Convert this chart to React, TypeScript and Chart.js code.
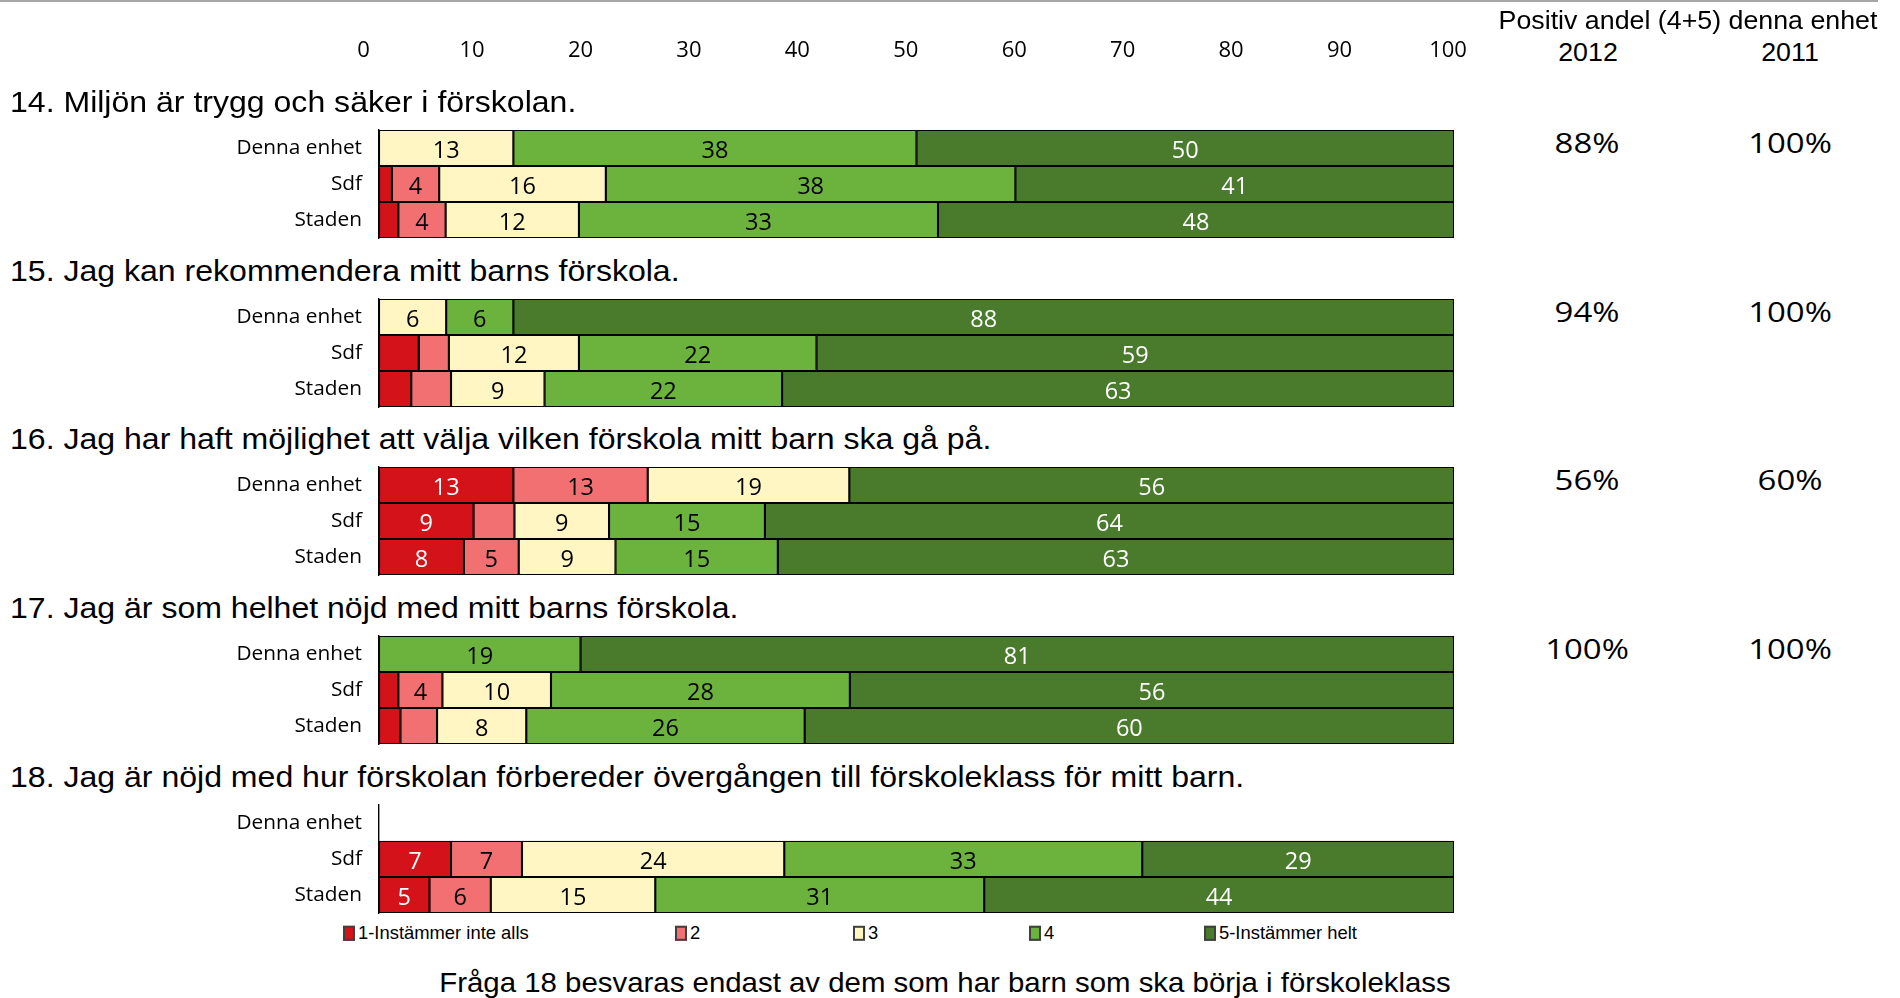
import React, { useEffect, useRef } from 'react';
import { Chart, registerables } from 'chart.js';

Chart.register(...registerables);

// ---------------- data ----------------
const categories = ['Denna enhet', 'Sdf', 'Staden'];
const questionTitles = [
  '14. Miljön är trygg och säker i förskolan.',
  '15. Jag kan rekommendera mitt barns förskola.',
  '16. Jag har haft möjlighet att välja vilken förskola mitt barn ska gå på.',
  '17. Jag är som helhet nöjd med mitt barns förskola.',
  '18. Jag är nöjd med hur förskolan förbereder övergången till förskoleklass för mitt barn.',
];
const levelNames = ['1-Instämmer inte alls', '2', '3', '4', '5-Instämmer helt'];
// each level: one row per question, values for [Denna enhet, Sdf, Staden]
const level1 = [[0, 1.2, 1.8], [0, 3.7, 3.0], [12.5, 8.8, 7.9], [0, 1.8, 2.0], [null, 6.7, 4.7]];
const level2 = [[0, 4.4, 4.4], [0, 2.8, 3.7], [12.5, 3.8, 5.1], [0, 4.1, 3.4], [null, 6.6, 5.7]];
const level3 = [[12.5, 15.5, 12.4], [6.25, 12.1, 8.7], [18.75, 8.8, 9.0], [0, 10.1, 8.3], [null, 24.4, 15.3]];
const level4 = [[37.5, 38.1, 33.4], [6.25, 22.1, 22.1], [0, 14.5, 15.1], [18.75, 27.8, 25.9], [null, 33.3, 30.6]];
const level5 = [[50, 40.8, 48.0], [87.5, 59.3, 62.5], [56.25, 64.1, 62.9], [81.25, 56.2, 60.4], [null, 29.0, 43.7]];
const positive2012 = [88, 94, 56, 100, null];
const positive2011 = [100, 100, 60, 100, null];
const xTickValues = [0, 10, 20, 30, 40, 50, 60, 70, 80, 90, 100];
const headerText = 'Positiv andel (4+5) denna enhet';
const yearLabels = ['2012', '2011'];
const footnote = 'Fråga 18 besvaras endast av dem som har barn som ska börja i förskoleklass';

// ---------------- styling / layout ----------------
const levelColors = ['#D3121A', '#F27072', '#FFF6C4', '#6CB33E', '#4A7A2C'];
const labelColors = ['#FFFFFF', '#000000', '#000000', '#000000', '#FFFFFF'];
const ARIAL = '"Liberation Sans", Arial, Helvetica, sans-serif';
const OPEN = '"Open Sans", "Noto Sans", sans-serif';
const PLOT_LEFT = 379;
const PLOT_RIGHT = 1454;
const CANVAS_W = 1500;
const ROW_H = 36;
const barTop = (qi: number) => 130 + Math.round(168.7 * qi);
const legendLefts = [343, 675, 853, 1029, 1204];

const valueLabelPlugin = {
  id: 'valueLabels',
  afterDatasetsDraw(chart: any) {
    const ctx = chart.ctx;
    ctx.save();
    ctx.font = `23.5px ${OPEN}`;
    ctx.textAlign = 'center';
    ctx.textBaseline = 'middle';
    chart.data.datasets.forEach((ds: any, di: number) => {
      const meta = chart.getDatasetMeta(di);
      meta.data.forEach((el: any, i: number) => {
        const v = ds.data[i];
        if (v == null || v < 4) return;
        const p = el.getProps(['x', 'y', 'base'], true);
        ctx.fillStyle = labelColors[di];
        ctx.fillText(String(Math.round(v)), (p.x + p.base) / 2, p.y + 3.2);
      });
    });
    ctx.restore();
  },
};

function QuestionChart({ qi }: { qi: number }) {
  const ref = useRef<HTMLCanvasElement>(null);
  const canvasTop = barTop(qi) - 4;
  const canvasH = ROW_H * 3 + 8;
  useEffect(() => {
    const levels = [level1, level2, level3, level4, level5];
    const chart = new Chart(ref.current as HTMLCanvasElement, {
      type: 'bar',
      data: {
        labels: categories,
        datasets: levels.map((lv, j) => ({
          label: levelNames[j],
          data: lv[qi] as any,
          backgroundColor: levelColors[j],
          borderColor: '#000000',
          borderWidth: 1.4,
          borderSkipped: false,
          barPercentage: 1,
          categoryPercentage: 1,
        })),
      },
      options: {
        indexAxis: 'y',
        animation: false,
        responsive: false,
        maintainAspectRatio: false,
        layout: { padding: { top: 4, bottom: 4, left: 0, right: CANVAS_W - PLOT_RIGHT } },
        plugins: { legend: { display: false }, tooltip: { enabled: false } },
        scales: {
          x: { stacked: true, min: 0, max: 100, display: false },
          y: {
            stacked: true,
            grid: { display: false, drawTicks: false },
            border: { display: true, color: '#000000', width: 1.4 },
            ticks: { color: '#000000', padding: 17, font: { family: OPEN, size: 20.8 } },
            afterFit: (s: any) => {
              s.width = PLOT_LEFT;
              s.paddingTop = 0;
              s.paddingBottom = 0;
            },
          },
        },
      } as any,
      plugins: [valueLabelPlugin],
    });
    return () => chart.destroy();
  }, [qi]);
  return (
    <canvas
      ref={ref}
      width={CANVAS_W}
      height={canvasH}
      style={{ position: 'absolute', left: 0, top: canvasTop, width: CANVAS_W, height: canvasH }}
    />
  );
}

function AxisChart() {
  const ref = useRef<HTMLCanvasElement>(null);
  useEffect(() => {
    const chart = new Chart(ref.current as HTMLCanvasElement, {
      type: 'scatter',
      data: { datasets: [] },
      options: {
        animation: false,
        responsive: false,
        maintainAspectRatio: false,
        layout: { padding: { top: 37.4, left: 363.6, right: CANVAS_W - 1448, bottom: 0 } },
        plugins: { legend: { display: false }, tooltip: { enabled: false } },
        scales: {
          x: {
            type: 'linear',
            position: 'top',
            min: 0,
            max: 100,
            grid: { display: false, drawTicks: false },
            border: { display: false },
            afterBuildTicks: (s: any) => {
              s.ticks = xTickValues.map((v) => ({ value: v }));
            },
            ticks: { color: '#000000', padding: 0, maxRotation: 0, autoSkip: false, font: { family: OPEN, size: 22 } },
          },
          y: { display: false, min: 0, max: 1 },
        },
      } as any,
    });
    return () => chart.destroy();
  }, []);
  return (
    <canvas
      ref={ref}
      width={CANVAS_W}
      height={90}
      style={{ position: 'absolute', left: 0, top: 0, width: CANVAS_W, height: 90 }}
    />
  );
}

function Txt(props: {
  x: number;
  y: number;
  size: number;
  family: string;
  scale?: number;
  align?: 'left' | 'center';
  children: React.ReactNode;
}) {
  const { x, y, size, family, scale = 1, align = 'left', children } = props;
  const style: React.CSSProperties = {
    position: 'absolute',
    left: x,
    top: y,
    fontSize: size,
    fontFamily: family,
    lineHeight: 1,
    whiteSpace: 'nowrap',
    color: '#000000',
    transform: align === 'center' ? `translate(-50%, -50%) scaleX(${scale})` : `translateY(-50%) scaleX(${scale})`,
    transformOrigin: align === 'center' ? '50% 50%' : '0 50%',
  };
  return <div style={style}>{children}</div>;
}

export default function App() {
  return (
    <div
      style={{
        position: 'absolute',
        left: 0,
        top: 0,
        width: 1900,
        height: 998,
        overflow: 'hidden',
        background: '#ffffff',
      }}
    >
      <div style={{ position: 'absolute', left: 0, top: 0, width: 1878, height: 2, background: '#a6a6a6' }} />
      <AxisChart />
      <Txt x={1688} y={20.5} size={25.5} family={ARIAL} scale={1.05} align="center">
        {headerText}
      </Txt>
      <Txt x={1588} y={53} size={25.5} family={ARIAL} scale={1.05} align="center">
        {yearLabels[0]}
      </Txt>
      <Txt x={1790} y={53} size={25.5} family={ARIAL} scale={1.05} align="center">
        {yearLabels[1]}
      </Txt>
      {questionTitles.map((t, qi) => (
        <React.Fragment key={qi}>
          <Txt x={9.7} y={barTop(qi) - 28.2} size={30} family={ARIAL} scale={1.068}>
            {t}
          </Txt>
          <QuestionChart qi={qi} />
          {positive2012[qi] != null && (
            <Txt x={1587} y={barTop(qi) + 11.8} size={27} family={OPEN} scale={1.22} align="center">
              {positive2012[qi] + '%'}
            </Txt>
          )}
          {positive2011[qi] != null && (
            <Txt x={1790} y={barTop(qi) + 11.8} size={27} family={OPEN} scale={1.22} align="center">
              {positive2011[qi] + '%'}
            </Txt>
          )}
        </React.Fragment>
      ))}
      {levelNames.map((n, j) => (
        <div
          key={n}
          style={{
            position: 'absolute',
            left: legendLefts[j],
            top: 933,
            transform: 'translateY(-50%)',
            display: 'flex',
            alignItems: 'center',
            whiteSpace: 'nowrap',
          }}
        >
          <div
            style={{
              width: 12,
              height: 15,
              boxSizing: 'border-box',
              border: '2px solid #404040',
              background: levelColors[j],
              marginRight: 3,
            }}
          />
          <span style={{ fontFamily: ARIAL, fontSize: 18.4, lineHeight: 1, color: '#000000' }}>{n}</span>
        </div>
      ))}
      <Txt x={944.5} y={982.7} size={28} family={ARIAL} scale={1.05} align="center">
        {footnote}
      </Txt>
    </div>
  );
}
